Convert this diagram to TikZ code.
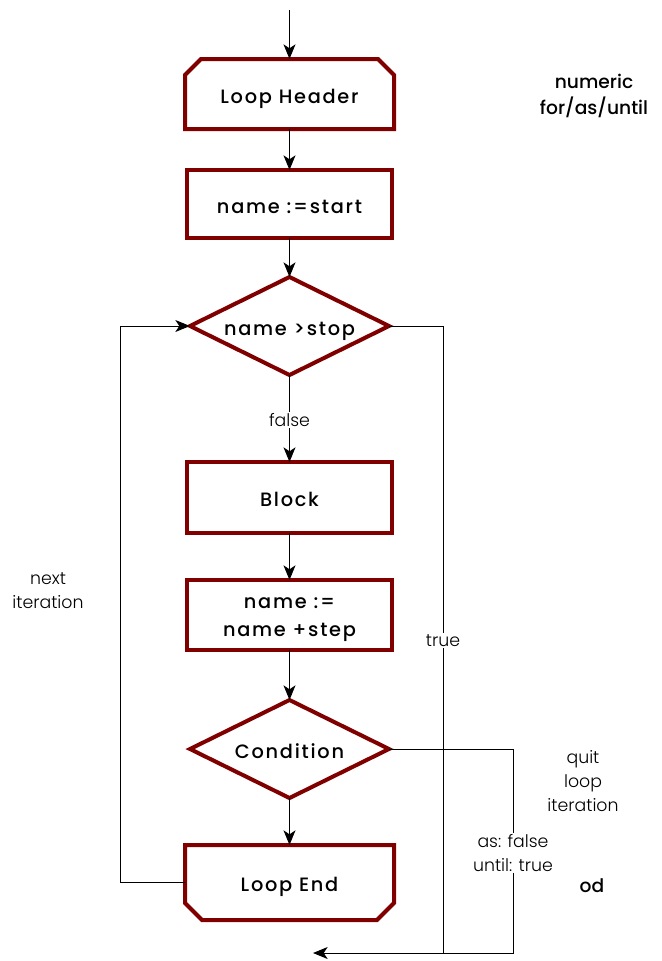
\documentclass[tikz,border=0pt]{standalone}
\usepackage{fontspec}
\setmainfont{Poppins}[BoldFont={Poppins Medium}]
\newfontfamily\lightfont{Poppins Light}
\usetikzlibrary{shapes.geometric,arrows.meta,calc}
\definecolor{boxred}{RGB}{128,0,0}
\newcommand\boxfont{\fontsize{14.5}{21}\selectfont\bfseries\addfontfeatures{LetterSpace=9}}
\newcommand\sidefont{\fontsize{14}{19.5}\selectfont\bfseries}
\newcommand\lblfont{\lightfont\fontsize{13}{18}\selectfont}
\begin{document}
\begin{tikzpicture}[x=0.75pt,y=-0.75pt,
  boxline/.style={draw=boxred,line width=3pt,line join=miter},
  plainbox/.style={minimum width=205*0.75pt,minimum height=68*0.75pt,inner sep=0pt,outer sep=1.5pt,font=\boxfont,align=center},
  rectbox/.style={plainbox,boxline,fill=white,outer sep=0pt},
  lowtext/.style={text height=14pt,text depth=0pt},
  decision/.style={diamond,aspect=2.03,boxline,fill=white,minimum width=199*0.75pt,minimum height=98*0.75pt,inner sep=0pt,outer sep=0pt,font=\boxfont,lowtext},
  conn/.style={draw=black,line width=0.75pt},
  arr/.style={conn,-{Stealth[length=11pt,width=9pt,inset=3pt]}},
  lbl/.style={font=\lblfont,align=center,inner sep=1pt},
  onlbl/.style={lbl,fill=white},
  side/.style={font=\sidefont,align=center,inner sep=0pt}]
\useasboundingbox (0,0) rectangle (661,961);
% nodes
\coordinate (start) at (289.5,10);
\node[plainbox,lowtext,minimum height=66*0.75pt] (lh) at (289.5,94) {Loop Header};
\draw[boxline] (lh.south west) -- ($(lh.north west)+(0,16)$) -- ($(lh.north west)+(16,0)$)
  -- ($(lh.north east)+(-16,0)$) -- ($(lh.north east)+(0,16)$) -- (lh.south east) -- cycle;
\node[rectbox,lowtext] (init) at (289.5,204) {name :=start};
\node[decision] (d1) at (289.5,326) {name >stop};
\node[rectbox,lowtext,minimum height=71*0.75pt] (blk) at (289.5,497.5) {Block};
\node[rectbox,minimum height=70*0.75pt,text height=35pt,text depth=3.5pt] (inc) at (289.5,615) {name :=\\name +step};
\node[decision] (d2) at (289.5,749) {Condition};
\node[plainbox,lowtext,minimum height=71*0.75pt] (le) at (289.5,882.5) {Loop End};
\draw[boxline] (le.north west) -- ($(le.south west)+(0,-17)$) -- ($(le.south west)+(17,0)$)
  -- ($(le.south east)+(-17,0)$) -- ($(le.south east)+(0,-17)$) -- (le.north east) -- cycle;
\coordinate (exit) at (313,953);
\coordinate (tc) at (443,953);
\coordinate (cc) at (513,953);
% connectors
\draw[arr] (start) -- (lh);
\draw[arr] (lh) -- (init);
\draw[arr] (init) -- (d1);
\draw[arr] (d1) -- node[onlbl,pos=0.52] {false} (blk);
\draw[arr] (blk) -- (inc);
\draw[arr] (inc) -- (d2);
\draw[arr] (d2) -- (le);
\draw[arr] (le.west) -- ++(-65,0) |- (d1.west);
\draw[conn] (d1.east) -| node[onlbl,pos=0.751] {true} (tc);
\draw[arr] (d2.east) -| node[onlbl,pos=0.755] {as: false\\until: true} (cc) -- (exit);
% side labels
\node[lbl] (nx) at (48,590.5) {next\\iteration};
\node[lbl] (quit) at (583,781) {quit\\loop\\iteration};
\node[side] (hdr) at (594,95.5) {numeric\\for/as/until};
\node[side] (od) at (592,886) {od};
\end{tikzpicture}
\end{document}
